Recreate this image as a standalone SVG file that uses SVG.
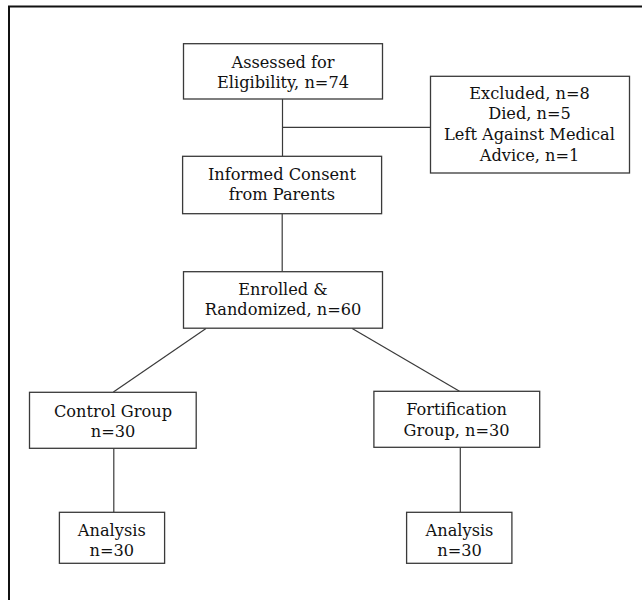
<svg xmlns="http://www.w3.org/2000/svg" width="642" height="600" viewBox="0 0 642 600">
<style>
.box{fill:#fff;stroke:#3a3a3a;stroke-width:1.3}
.ln{stroke:#3a3a3a;stroke-width:1.2;fill:none}
text{font-family:"DejaVu Serif","Liberation Serif",serif;font-size:16.2px;fill:#111;text-anchor:middle}
</style>
<rect x="0" y="0" width="642" height="600" fill="#fff"/>
<path d="M9 610 V6.5 H650" fill="none" stroke="#111" stroke-width="2"/>
<g id="connectors">
<line class="ln" x1="282.5" y1="99" x2="282.5" y2="156.3"/>
<line class="ln" x1="282.5" y1="127.3" x2="430.5" y2="127.3"/>
<line class="ln" x1="282.2" y1="213.7" x2="282.2" y2="271.7"/>
<line class="ln" x1="206" y1="328.5" x2="113.4" y2="392"/>
<line class="ln" x1="352.2" y1="328.5" x2="459.5" y2="391.3"/>
<line class="ln" x1="113.8" y1="448.3" x2="113.8" y2="512.3"/>
<line class="ln" x1="460.3" y1="447.3" x2="460.3" y2="512.3"/>
</g>
<g id="assessed">
<rect class="box" x="183.5" y="43.7" width="199" height="55.3"/>
<text x="283" y="67.5">Assessed for</text>
<text x="283" y="88.3">Eligibility, n=74</text>
</g>
<g id="excluded">
<rect class="box" x="430.5" y="76.3" width="199" height="96.7"/>
<text x="529.5" y="98.7">Excluded, n=8</text>
<text x="529.5" y="119.3">Died, n=5</text>
<text x="529.5" y="140.2">Left Against Medical</text>
<text x="529.5" y="161">Advice, n=1</text>
</g>
<g id="consent">
<rect class="box" x="182.6" y="156.3" width="199" height="57.4"/>
<text x="282" y="180.3">Informed Consent</text>
<text x="282" y="200.3">from Parents</text>
</g>
<g id="enrolled">
<rect class="box" x="183.5" y="271.7" width="199" height="56.5"/>
<text x="283" y="295">Enrolled &amp;</text>
<text x="283" y="315">Randomized, n=60</text>
</g>
<g id="control">
<rect class="box" x="29.5" y="392.3" width="166.7" height="56"/>
<text x="113" y="416.7">Control Group</text>
<text x="113" y="436.7">n=30</text>
</g>
<g id="fortification">
<rect class="box" x="373.9" y="391.3" width="165.8" height="56"/>
<text x="456.6" y="415">Fortification</text>
<text x="456.6" y="435.7">Group, n=30</text>
</g>
<g id="analysis-control">
<rect class="box" x="59.4" y="512.3" width="105.2" height="51"/>
<text x="111.8" y="535.7">Analysis</text>
<text x="111.8" y="555.7">n=30</text>
</g>
<g id="analysis-fortification">
<rect class="box" x="406.6" y="512.3" width="105.3" height="51"/>
<text x="459.5" y="535.7">Analysis</text>
<text x="459.5" y="555.7">n=30</text>
</g>
</svg>
